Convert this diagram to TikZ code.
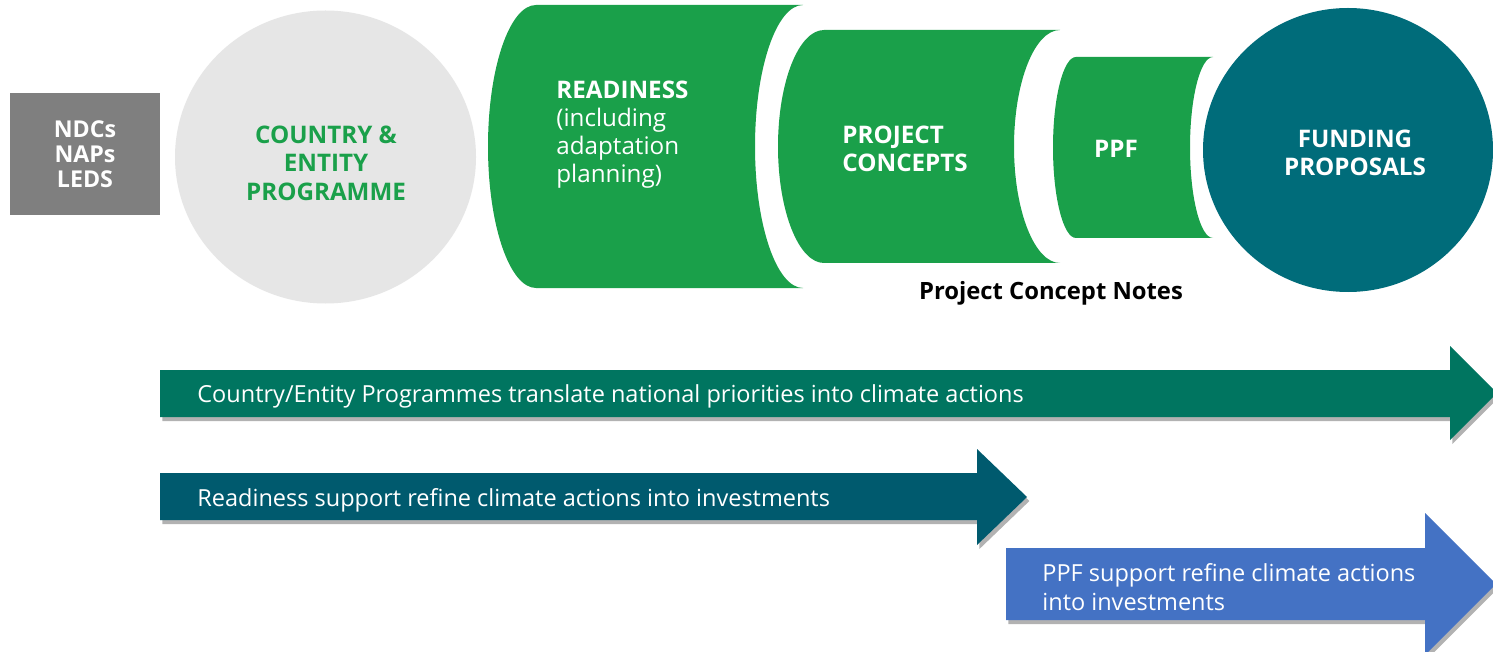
\documentclass[tikz,border=0pt]{standalone}
\usepackage{fontspec}
\setmainfont{Open Sans}
\usetikzlibrary{shapes.geometric,shadows}

\definecolor{boxgray}{RGB}{127,127,127}
\definecolor{lightgray}{RGB}{230,230,230}
\definecolor{gcfgreen}{RGB}{26,160,74}
\definecolor{fundteal}{RGB}{0,108,122}
\definecolor{arrowgreen}{RGB}{0,117,96}
\definecolor{arrowteal}{RGB}{0,90,110}
\definecolor{arrowblue}{RGB}{68,114,196}

% pipe segment: left end convex, right end concave
% #1 left x, #2 top y, #3 bottom y, #4 right top-corner x, #5 end radius
\newcommand{\pipeseg}[5]{%
  \fill[gcfgreen] (#4,#2)
    arc[start angle=270, end angle=90, x radius=#5, y radius={(#3-#2)/2}]
    -- ({#1+#5},#3)
    arc[start angle=90, end angle=270, x radius=#5, y radius={(#3-#2)/2}]
    -- cycle;}

\tikzset{
  head/.style={font=\fontsize{12.1}{14}\selectfont\bfseries, text=white,
    inner sep=0pt, align=left},
  flowtext/.style={font=\fontsize{11.75}{14.5}\selectfont, text=white,
    inner sep=0pt, align=left, anchor=west},
  bandarrow/.style={drop shadow={shadow xshift=1.2pt, shadow yshift=-2pt,
    opacity=0.3, fill=black}},
}

\begin{document}
\begin{tikzpicture}[x=0.5pt,y=-0.5pt]
\clip (0,0) rectangle (1493,652);
\fill[white] (0,0) rectangle (1493,652);

% sources
\node[rectangle, fill=boxgray, minimum width=75pt, minimum height=61pt,
  inner sep=0pt, font=\fontsize{11.6}{12.5}\selectfont\bfseries, text=white,
  align=center] (src) at (85,154) {NDCs\\NAPs\\LEDS};

% country & entity programme
\node[ellipse, fill=lightgray, minimum width=150.5pt, minimum height=146.5pt,
  inner sep=0pt] (cp) at (325.5,157) {};
\node[font=\fontsize{12.1}{14.25}\selectfont\bfseries, text=gcfgreen,
  align=center, inner sep=0pt] (cpt) at (326,163)
  {COUNTRY \&\\ENTITY\\PROGRAMME};

% pipeline segments
\pipeseg{488}{5}{288}{803}{48}
\pipeseg{778}{30}{263}{1060}{46}
\pipeseg{1053}{57}{238}{1213}{23}

\node[head, anchor=west] (rd) at (556,135)
  {READINESS\\\mdseries(including\\\mdseries adaptation\\\mdseries planning)};
\node[head, anchor=west] (pc) at (842,149) {PROJECT\\CONCEPTS};
\node[head] (ppf) at (1116,149) {PPF};

% funding proposals
\node[ellipse, fill=fundteal, minimum width=145pt, minimum height=142pt,
  inner sep=0pt] (fp) at (1348,150) {};
\node[head, align=center] (fpt) at (1355,153) {FUNDING\\PROPOSALS};

\node[font=\fontsize{11.9}{14}\selectfont\bfseries, text=black, inner sep=0pt]
  (pcn) at (1051,293) {Project Concept Notes};

% support arrows
\path[fill=arrowgreen, bandarrow] (160,370) -- (1450,370) -- (1450,346)
  -- (1497,393) -- (1450,440) -- (1450,417) -- (160,417) -- cycle;
\path[fill=arrowteal, bandarrow] (160,473) -- (977,473) -- (977,449)
  -- (1027,497) -- (977,545) -- (977,520) -- (160,520) -- cycle;
\path[fill=arrowblue, bandarrow] (1006,548) -- (1425,548) -- (1425,513)
  -- (1496,584) -- (1425,655) -- (1425,620) -- (1006,620) -- cycle;

\node[flowtext] (a1) at (197,396)
  {Country/Entity Programmes translate national priorities into climate actions};
\node[flowtext] (a2) at (197,500)
  {Readiness support refine climate actions into investments};
\node[flowtext] (a3) at (1042,587)
  {PPF support refine climate actions\\into investments};
\end{tikzpicture}
\end{document}
